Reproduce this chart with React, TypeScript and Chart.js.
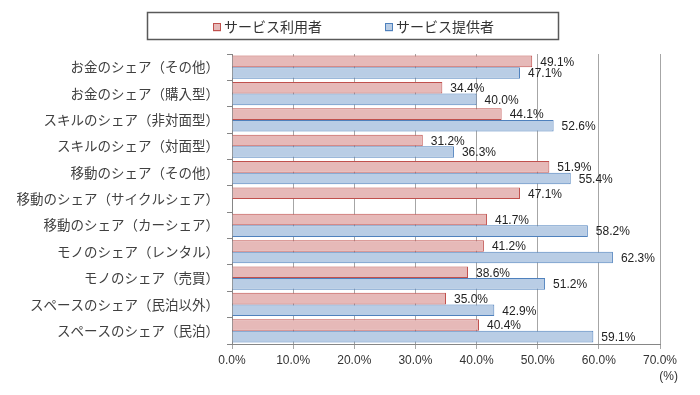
import React, { useEffect, useRef } from "react";
import { Chart, registerables } from "chart.js";

Chart.register(...registerables);

const categories = [
  "お金のシェア（その他）",
  "お金のシェア（購入型）",
  "スキルのシェア（非対面型）",
  "スキルのシェア（対面型）",
  "移動のシェア（その他）",
  "移動のシェア（サイクルシェア）",
  "移動のシェア（カーシェア）",
  "モノのシェア（レンタル）",
  "モノのシェア（売買）",
  "スペースのシェア（民泊以外）",
  "スペースのシェア（民泊）",
];
const userValues = [49.1, 34.4, 44.1, 31.2, 51.9, 47.1, 41.7, 41.2, 38.6, 35.0, 40.4];
const providerValues = [47.1, 40.0, 52.6, 36.3, 55.4, null, 58.2, 62.3, 51.2, 42.9, 59.1];
const seriesNames = ["サービス利用者", "サービス提供者"];
const xTicks = [0, 10, 20, 30, 40, 50, 60, 70];
const unitLabel = "(%)";

const RED_FILL = "#E6B9B8";
const RED_BORDER = "#C0504D";
const BLUE_FILL = "#B9CDE5";
const BLUE_BORDER = "#4F81BD";
const JP_FONT = "'Noto Sans CJK JP', sans-serif";
const NUM_FONT = "'Liberation Sans', 'DejaVu Sans', sans-serif";

const labelsPlugin = {
  id: "customDecor",
  afterDatasetsDraw(chart: any) {
    const ctx = chart.ctx;
    ctx.save();
    ctx.font = `12px ${NUM_FONT}`;
    ctx.fillStyle = "#222";
    ctx.textAlign = "left";
    ctx.textBaseline = "middle";
    chart.data.datasets.forEach((ds: any, di: number) => {
      const meta = chart.getDatasetMeta(di);
      meta.data.forEach((el: any, i: number) => {
        const v = ds.data[i];
        if (v === null || v === undefined) return;
        ctx.fillText(v.toFixed(1) + "%", el.x + 8, el.y + 1);
      });
    });
    const xs = chart.scales.x;
    ctx.textAlign = "right";
    ctx.fillStyle = "#333";
    ctx.fillText(unitLabel, xs.right + 18, chart.chartArea.bottom + 33);
    ctx.restore();
  },
  afterDraw(chart: any) {
    const ctx = chart.ctx;
    ctx.save();
    ctx.strokeStyle = "#595959";
    ctx.lineWidth = 1.5;
    ctx.strokeRect(147.5, 12.5, 411, 27);
    const items = [
      { x: 213, fill: RED_FILL, border: RED_BORDER, text: seriesNames[0] },
      { x: 385, fill: BLUE_FILL, border: BLUE_BORDER, text: seriesNames[1] },
    ];
    ctx.font = `14px ${JP_FONT}`;
    ctx.textBaseline = "middle";
    ctx.textAlign = "left";
    items.forEach((it) => {
      ctx.fillStyle = it.fill;
      ctx.fillRect(it.x, 23.5, 8, 8);
      ctx.strokeStyle = it.border;
      ctx.lineWidth = 1;
      ctx.strokeRect(it.x + 0.5, 23.5, 7, 7);
      ctx.fillStyle = "#333";
      ctx.fillText(it.text, it.x + 11, 27);
    });
    ctx.restore();
  },
};

export default function App() {
  const ref = useRef<HTMLCanvasElement | null>(null);
  useEffect(() => {
    if (!ref.current) return;
    const chart = new Chart(ref.current, {
      type: "bar",
      data: {
        labels: categories,
        datasets: [
          {
            label: seriesNames[0],
            data: userValues,
            backgroundColor: RED_FILL,
            borderColor: RED_BORDER,
            borderWidth: 1,
            categoryPercentage: 0.88,
            barPercentage: 1,
          },
          {
            label: seriesNames[1],
            data: providerValues as any,
            backgroundColor: BLUE_FILL,
            borderColor: BLUE_BORDER,
            borderWidth: 1,
            categoryPercentage: 0.88,
            barPercentage: 1,
          },
        ],
      },
      options: {
        indexAxis: "y",
        responsive: false,
        animation: false,
        layout: { padding: { top: 54, right: 40, bottom: 0, left: 0 } },
        plugins: {
          legend: { display: false },
          tooltip: { enabled: false },
        },
        scales: {
          x: {
            min: 0,
            max: 70,
            afterBuildTicks(scale: any) {
              scale.ticks = xTicks.map((v) => ({ value: v }));
            },
            afterFit(scale: any) {
              scale.height = 51;
            },
            grid: {
              color: "#A6A6A6",
              lineWidth: 1,
              tickLength: 5,
              drawTicks: true,
            },
            border: { color: "#868686", width: 1 },
            ticks: {
              padding: 4,
              color: "#333",
              font: { family: NUM_FONT, size: 12 },
              callback: (v: any) => Number(v).toFixed(1) + "%",
            },
          },
          y: {
            afterFit(scale: any) {
              scale.width = 232;
            },
            grid: {
              offset: true,
              drawOnChartArea: false,
              tickLength: 5,
              color: "#868686",
            },
            border: { color: "#868686", width: 1 },
            ticks: {
              padding: 8,
              color: "#404040",
              font: { family: JP_FONT, size: 13.5 },
            },
          },
        },
      },
      plugins: [labelsPlugin],
    });
    return () => chart.destroy();
  }, []);
  return (
    <div style={{ position: "fixed", left: 0, top: 0, width: 700, height: 395, background: "#fff" }}>
      <canvas ref={ref} width={700} height={395} style={{ display: "block" }} />
    </div>
  );
}
